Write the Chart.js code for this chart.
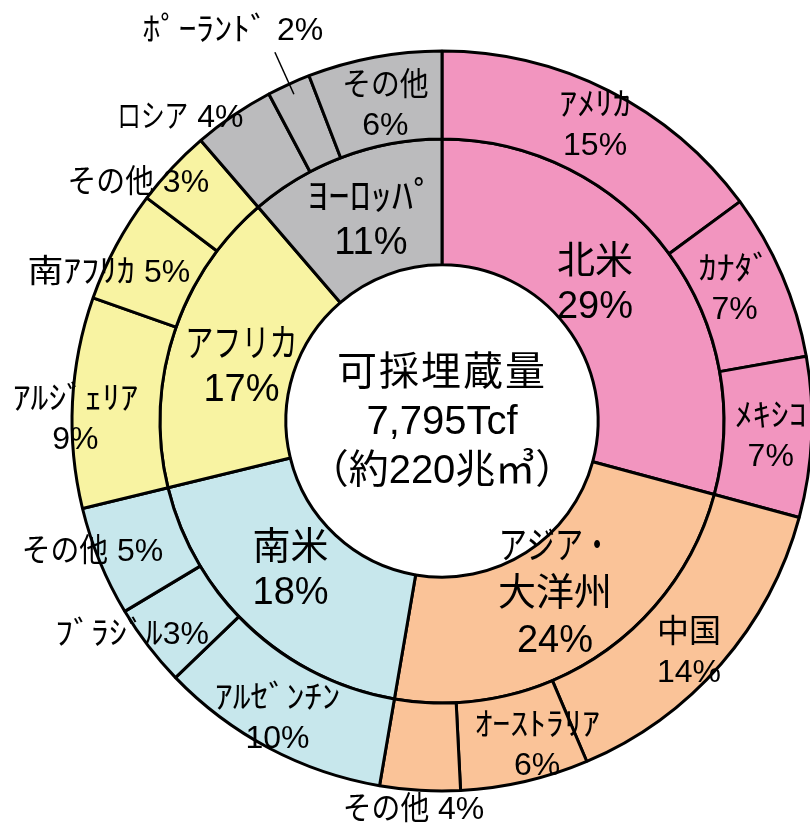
<!DOCTYPE html>
<html>
<head>
<meta charset="utf-8">
<script src="https://cdn.jsdelivr.net/npm/chart.js@4.4.1/dist/chart.umd.min.js"></script>
<style>
  html, body { margin: 0; padding: 0; background: #fff; overflow: hidden; width: 810px; height: 825px; }
  #c { position: absolute; left: 0; top: 0; }
</style>
</head>
<body>
<canvas id="c" width="884" height="842"></canvas>
<script>
// ---- data ----
const regions = ['北米', 'アジア・大洋州', '南米', 'アフリカ', 'ヨーロッパ'];
const regionLabels = ['北米', 'アジア・\n大洋州', '南米', 'アフリカ', 'ﾖｰﾛｯﾊﾟ'];
const regionShare = [29.2, 23.5, 18.5, 17.5, 11.3];
const regionPct = [29, 24, 18, 17, 11];

const countries = ['アメリカ', 'カナダ', 'メキシコ', '中国', 'オーストラリア', 'その他',
  'アルゼンチン', 'ブラジル', 'その他', 'アルジェリア', '南アフリカ', 'その他',
  'ロシア', 'ポーランド', 'その他'];
const countryLabels = ['ｱﾒﾘｶ', 'ｶﾅﾀﾞ', 'ﾒｷｼｺ', '中国', 'ｵｰｽﾄﾗﾘｱ', 'その他',
  'ｱﾙｾﾞﾝﾁﾝ', 'ﾌﾞﾗｼﾞﾙ', 'その他', 'ｱﾙｼﾞｪﾘｱ', '南ｱﾌﾘｶ', 'その他',
  'ロシア', 'ﾎﾟｰﾗﾝﾄﾞ', 'その他'];
const countryRegion = [0, 0, 0, 1, 1, 1, 2, 2, 2, 3, 3, 3, 4, 4, 4];
const countryShare = [14.9, 7.3, 7.0, 14.4, 5.6, 3.5, 10.1, 3.6, 4.8, 9.2, 4.9, 3.4, 3.55, 1.9, 5.85];
const countryPct = [15, 7, 7, 14, 6, 4, 10, 3, 5, 9, 5, 3, 4, 2, 6];

const centerLines = ['可採埋蔵量', '7,795Tcf', '（約220兆㎥）'];

// ---- styles / placement ----
const regionColors = ['#F295BF', '#FAC398', '#C7E7EC', '#F8F3A2', '#BBBBBD'];
const FONT = "'Liberation Sans', 'Noto Sans CJK JP', sans-serif";
// label layout: 'stack' = name over pct, 'inline' = name + space + pct, 'tight' = name + pct
const countryLayout = ['stack', 'stack', 'stack', 'stack', 'stack', 'inline',
  'stack', 'tight', 'inline', 'stack', 'inline', 'inline', 'inline', 'inline', 'stack'];
const countryOffsets = [[6, -4], [-7, -2], [3, 2], [1, 18], [22, 7], [-9, 64],
  [-12, 10], [-51, 16], [-48, 7], [-41, 16], [-46, 7], [-66, -15], [-78, -33], [-74, -93], [3, 6]];
const regionOffsets = [[-21, -3], [-5, -11], [-2, -10], [8, 14], [5, 5]];

function nameScale(s) {
  if (/[\uFF61-\uFF9F]/.test(s)) return 1.12;             // half-width katakana
  if (/[\u3041-\u3096]/.test(s)) return 0.9;              // hiragana
  if (/[\u30A1-\u30FA]/.test(s) && !/[\u4E00-\u9FFF]/.test(s)) return 0.74; // full-width katakana
  return 1;
}

function drawScaled(ctx, text, x, y, scale, align) {
  const w = ctx.measureText(text).width * scale;
  let left = x;
  if (align === 'center') left = x - w / 2;
  ctx.save();
  ctx.translate(left, y);
  ctx.scale(scale, 1);
  ctx.textAlign = 'left';
  ctx.fillText(text, 0, 0);
  ctx.restore();
  return w;
}

function drawLabel(ctx, cx, cy, name, pct, layout, size, lh) {
  ctx.font = size + 'px ' + FONT;
  ctx.textBaseline = 'middle';
  if (layout === 'stack') {
    const lines = name.split('\n');
    const n = lines.length + 1;
    lines.forEach((ln, i) => {
      drawScaled(ctx, ln, cx, cy + (i - (n - 1) / 2) * lh, nameScale(ln), 'center');
    });
    drawScaled(ctx, pct, cx, cy + (n - 1 - (n - 1) / 2) * lh, 1, 'center');
  } else {
    const sc = nameScale(name);
    const sep = layout === 'inline' ? ' ' : '';
    const nw = ctx.measureText(name).width * sc;
    const sw = ctx.measureText(sep + pct).width;
    let x = cx - (nw + sw) / 2;
    drawScaled(ctx, name, x, cy, sc, 'left');
    drawScaled(ctx, sep + pct, x + nw, cy, 1, 'left');
  }
}

const labelPlugin = {
  id: 'ringLabels',
  afterDatasetsDraw(chart) {
    const ctx = chart.ctx;
    ctx.save();
    ctx.fillStyle = '#000';
    const outer = chart.getDatasetMeta(0).data;
    const inner = chart.getDatasetMeta(1).data;
    outer.forEach((arc, i) => {
      const p = arc.getCenterPoint();
      const x = p.x + countryOffsets[i][0], y = p.y + countryOffsets[i][1];
      drawLabel(ctx, x, y, countryLabels[i], countryPct[i] + '%', countryLayout[i], 32, 40);
      if (countries[i] === 'ポーランド') {
        ctx.strokeStyle = '#000';
        ctx.lineWidth = 1.5;
        ctx.beginPath();
        ctx.moveTo(p.x - 32, p.y - 72);
        ctx.lineTo(p.x - 13, p.y - 30);
        ctx.stroke();
      }
    });
    inner.forEach((arc, i) => {
      const p = arc.getCenterPoint();
      const lines = regionLabels[i].split('\n').length;
      drawLabel(ctx, p.x + regionOffsets[i][0], p.y + regionOffsets[i][1],
        regionLabels[i], regionPct[i] + '%', 'stack', 38, lines > 1 ? 47 : 45);
    });
    // center text
    const c = inner[0];
    ctx.font = '40px ' + FONT;
    ctx.textAlign = 'center';
    ctx.textBaseline = 'middle';
    const lh = 49;
    centerLines.forEach((t, i) => {
      ctx.save();
      if (i === 0 && 'letterSpacing' in ctx) ctx.letterSpacing = '2px';
      ctx.fillText(t, c.x, c.y + (i - 1) * lh + 2);
      ctx.restore();
    });
    ctx.restore();
  }
};

new Chart(document.getElementById('c'), {
  type: 'doughnut',
  data: {
    labels: countries,
    datasets: [
      {
        label: '国別',
        data: countryShare,
        backgroundColor: countryRegion.map(r => regionColors[r]),
        borderColor: '#000',
        borderWidth: 3,
        weight: 88
      },
      {
        label: '地域別',
        data: regionShare,
        backgroundColor: regionColors,
        borderColor: '#000',
        borderWidth: 3,
        weight: 126
      }
    ]
  },
  options: {
    responsive: false,
    devicePixelRatio: 1,
    animation: false,
    events: [],
    radius: 370,
    cutout: '42.2%',
    layout: { padding: 0 },
    plugins: {
      legend: { display: false },
      tooltip: { enabled: false },
      title: { display: false }
    }
  },
  plugins: [labelPlugin]
});
</script>
</body>
</html>
